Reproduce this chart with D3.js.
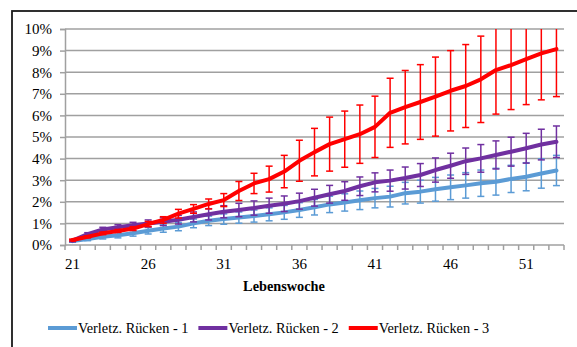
<!DOCTYPE html>
<html>
<head>
<meta charset="utf-8">
<script src="https://cdn.jsdelivr.net/npm/d3@7"></script>
<style>
  html, body { margin: 0; padding: 0; background: #fff; }
  svg { display: block; }
</style>
</head>
<body>
<svg id="chart" width="577" height="347"></svg>
<script>
// Lebenswochen (categories)
const weeks = [21, 22, 23, 24, 25, 26, 27, 28, 29, 30, 31, 32, 33, 34, 35, 36, 37,
               38, 39, 40, 41, 42, 43, 44, 45, 46, 47, 48, 49, 50, 51, 52, 53];
const labeledWeeks = [21, 26, 31, 36, 41, 46, 51];
const yTicks = [0, 1, 2, 3, 4, 5, 6, 7, 8, 9, 10];

// Anteil in Prozent je Gruppe
const rueckenEins = [0.18, 0.28, 0.38, 0.45, 0.54, 0.66, 0.76, 0.85, 1.00, 1.12, 1.20, 1.27, 1.34, 1.42, 1.51, 1.62, 1.75,
                     1.88, 1.97, 2.07, 2.17, 2.24, 2.40, 2.47, 2.58, 2.67, 2.76, 2.86, 2.93, 3.06, 3.16, 3.31, 3.45];
const rueckenZwei = [0.20, 0.50, 0.72, 0.82, 0.91, 1.00, 1.08, 1.17, 1.30, 1.42, 1.54, 1.62, 1.71, 1.82, 1.91, 2.03, 2.19,
                     2.35, 2.50, 2.72, 2.90, 2.98, 3.10, 3.24, 3.47, 3.67, 3.88, 4.01, 4.17, 4.32, 4.48, 4.65, 4.78];
const rueckenDrei = [0.23, 0.38, 0.54, 0.65, 0.76, 0.97, 1.16, 1.45, 1.67, 1.90, 2.08, 2.50, 2.85, 3.05, 3.40, 3.90, 4.30,
                     4.67, 4.90, 5.13, 5.47, 6.12, 6.38, 6.62, 6.87, 7.14, 7.36, 7.67, 8.10, 8.33, 8.60, 8.87, 9.07];

// Fehlerbalken (± Prozentpunkte)
const fehlerEins = [0.05, 0.08, 0.10, 0.12, 0.13, 0.15, 0.17, 0.19, 0.20, 0.22, 0.24, 0.26, 0.28, 0.30, 0.32, 0.34, 0.36,
                    0.38, 0.40, 0.43, 0.45, 0.48, 0.50, 0.53, 0.55, 0.57, 0.59, 0.61, 0.62, 0.63, 0.65, 0.68, 0.70];
const fehlerZwei = [0.05, 0.07, 0.10, 0.12, 0.14, 0.16, 0.18, 0.20, 0.23, 0.26, 0.28, 0.31, 0.33, 0.35, 0.36, 0.37, 0.39,
                    0.41, 0.43, 0.43, 0.44, 0.49, 0.51, 0.53, 0.56, 0.58, 0.61, 0.64, 0.65, 0.67, 0.69, 0.71, 0.73];
const fehlerDrei = [0.04, 0.05, 0.06, 0.07, 0.09, 0.12, 0.15, 0.20, 0.20, 0.23, 0.30, 0.44, 0.47, 0.60, 0.75, 0.95, 1.10,
                    1.25, 1.30, 1.35, 1.42, 1.60, 1.70, 1.73, 1.83, 1.86, 1.92, 2.00, 2.04, 2.06, 2.10, 2.15, 2.20];

const seriesNames = ["Verletz. Rücken - 1", "Verletz. Rücken - 2", "Verletz. Rücken - 3"];
const seriesColors = ["#5b9bd5", "#7030a0", "#ff0000"];

const series = [
  { name: seriesNames[0], color: seriesColors[0], values: rueckenEins, err: fehlerEins },
  { name: seriesNames[1], color: seriesColors[1], values: rueckenZwei, err: fehlerZwei },
  { name: seriesNames[2], color: seriesColors[2], values: rueckenDrei, err: fehlerDrei }
];

const FONT = "'Liberation Serif', 'Times New Roman', serif";

const svg = d3.select("#chart");
const plot = { left: 65, right: 564, top: 29, bottom: 245 };

const x = d3.scaleBand().domain(weeks).range([plot.left, plot.right]).padding(0);
const cx = w => x(w) + x.bandwidth() / 2;
const y = d3.scaleLinear().domain([0, 10]).range([plot.bottom, plot.top]);

// outer frame
svg.append("rect")
  .attr("x", 12).attr("y", 11).attr("width", 600).attr("height", 360)
  .attr("fill", "none").attr("stroke", "#1a1a1a").attr("stroke-width", 1.8);

svg.append("defs").append("clipPath").attr("id", "plotClip")
  .append("rect")
  .attr("x", plot.left - 10).attr("y", plot.top)
  .attr("width", plot.right - plot.left + 20).attr("height", plot.bottom - plot.top);

// horizontal gridlines
svg.append("g").selectAll("line").data(yTicks.filter(t => t > 0)).join("line")
  .attr("x1", plot.left).attr("x2", plot.right)
  .attr("y1", d => y(d)).attr("y2", d => y(d))
  .attr("stroke", "#a0a0a0").attr("stroke-width", 1.5);

// y axis
const yAxis = svg.append("g").attr("transform", `translate(${plot.left},0)`)
  .call(d3.axisLeft(y).tickValues(yTicks).tickSize(5).tickPadding(8).tickFormat(d => d + "%"));
yAxis.attr("font-family", null).attr("font-size", null);
yAxis.select(".domain").attr("stroke", "#a0a0a0").attr("stroke-width", 1.5);
yAxis.selectAll(".tick line").attr("stroke", "#a0a0a0").attr("stroke-width", 1.5);
yAxis.selectAll(".tick text")
  .attr("font-family", FONT).attr("font-size", 15).attr("fill", "#000");

// x axis: line, category boundary ticks, labels
const xg = svg.append("g");
xg.append("line")
  .attr("x1", plot.left).attr("x2", plot.right)
  .attr("y1", plot.bottom).attr("y2", plot.bottom)
  .attr("stroke", "#a0a0a0").attr("stroke-width", 1.5);
const edges = weeks.map(w => x(w)).concat([x(weeks[weeks.length - 1]) + x.bandwidth()]);
xg.selectAll("line.tk").data(edges).join("line").attr("class", "tk")
  .attr("x1", d => d).attr("x2", d => d)
  .attr("y1", plot.bottom).attr("y2", plot.bottom + 5)
  .attr("stroke", "#a0a0a0").attr("stroke-width", 1.5);
xg.selectAll("text").data(labeledWeeks).join("text")
  .attr("x", d => cx(d)).attr("y", plot.bottom + 24)
  .attr("text-anchor", "middle")
  .attr("font-family", FONT).attr("font-size", 15)
  .text(d => d);

// axis title
svg.append("text")
  .attr("x", 284).attr("y", 291)
  .attr("text-anchor", "middle")
  .attr("font-family", FONT).attr("font-size", 14.3).attr("font-weight", "bold")
  .text("Lebenswoche");

// series: error bars and lines
const line = d3.line().x((d, i) => cx(weeks[i])).y(d => y(d));
const cap = 3.5;
series.forEach(s => {
  const g = svg.append("g");
  const eb = g.append("g").attr("clip-path", "url(#plotClip)")
    .selectAll("g").data(s.values).join("g");
  eb.append("line")
    .attr("x1", (d, i) => cx(weeks[i])).attr("x2", (d, i) => cx(weeks[i]))
    .attr("y1", (d, i) => y(d + s.err[i])).attr("y2", (d, i) => y(d - s.err[i]))
    .attr("stroke", s.color).attr("stroke-width", 1.5);
  eb.append("line")
    .attr("x1", (d, i) => cx(weeks[i]) - cap).attr("x2", (d, i) => cx(weeks[i]) + cap)
    .attr("y1", (d, i) => y(d + s.err[i])).attr("y2", (d, i) => y(d + s.err[i]))
    .attr("stroke", s.color).attr("stroke-width", 1.5);
  eb.append("line")
    .attr("x1", (d, i) => cx(weeks[i]) - cap).attr("x2", (d, i) => cx(weeks[i]) + cap)
    .attr("y1", (d, i) => y(d - s.err[i])).attr("y2", (d, i) => y(d - s.err[i]))
    .attr("stroke", s.color).attr("stroke-width", 1.5);
  g.append("path").datum(s.values)
    .attr("d", line)
    .attr("fill", "none").attr("stroke", s.color)
    .attr("stroke-width", 4).attr("stroke-linejoin", "round").attr("stroke-linecap", "round");
});

// legend
const legend = svg.append("g").attr("transform", "translate(48,328)");
let lx = 0;
series.forEach(s => {
  const item = legend.append("g").attr("transform", `translate(${lx},0)`);
  item.append("line").attr("x1", 0).attr("x2", 29).attr("y1", 0).attr("y2", 0)
    .attr("stroke", s.color).attr("stroke-width", 4);
  const t = item.append("text").attr("x", 30).attr("y", 5)
    .attr("font-family", FONT).attr("font-size", 14.3).text(s.name);
  lx += 30 + t.node().getComputedTextLength() + 10;
});
</script>
</body>
</html>
